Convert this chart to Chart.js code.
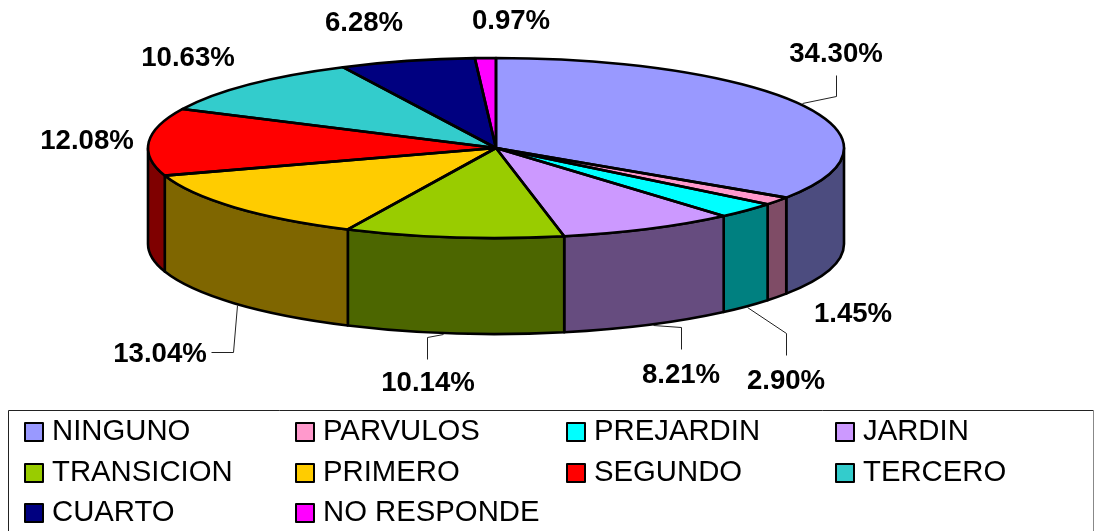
<!DOCTYPE html>
<html><head><meta charset="utf-8">
<style>html,body{margin:0;padding:0;background:#fff}canvas{display:block}</style>
<script src="https://cdn.jsdelivr.net/npm/chart.js@4"></script>
</head><body>
<canvas id="c" width="1094" height="531"></canvas>
<script>
const categories = ["NINGUNO","PARVULOS","PREJARDIN","JARDIN","TRANSICION","PRIMERO","SEGUNDO","TERCERO","CUARTO","NO RESPONDE"];
const values = [34.30,1.45,2.90,8.21,10.14,13.04,12.08,10.63,6.28,0.97];
const topColors = ["#9999FF","#FF99CC","#00FFFF","#CC99FF","#99CC00","#FFCC00","#FF0000","#33CCCC","#000080","#FF00FF"];
const wallColors = ["#4C4C7F","#7F4C66","#008080","#664C7F","#4C6600","#7F6600","#7F0000","#196666","#000040","#7F007F"];

// layout of the annotation text and the pseudo-3D projection
const pie = {cx:496, cy:148, rx:348, ry:90, depth:96};
const labelPos = [[836,54],[853,314],[786,381],[681,375],[428,383],[160,354],[87,141],[188,58],[364,23],[511,21]];
const leaders = [
  [[802,103],[836,96],[836,75]], null,
  [[747,307],[786,333],[786,355]],
  [[653,325],[681,327],[681,349]],
  [[443,334],[427,337],[427,359]],
  [[237,305],[233,352],[211,352]],
  null,null,null,null];
const legendCols = [25,296,567,836], legendRows = [432,473,513];
const legendBox = {x:8.5,y:410.5,r:1093.5};

const pie3d = {
  id:'pie3d',
  beforeDatasetsDraw(chart){
    const ctx = chart.ctx, arcs = chart.getDatasetMeta(0).data;
    const {cx,cy,rx,ry,depth} = pie;
    ctx.save();
    ctx.lineWidth = 2.6; ctx.strokeStyle = '#000'; ctx.lineJoin='round';
    arcs.forEach((a,i)=>{
      const s = Math.max(a.startAngle,0), e = Math.min(a.endAngle,Math.PI);
      if (e<=s) return;
      ctx.beginPath();
      ctx.ellipse(cx,cy,rx,ry,0,s,e);
      ctx.ellipse(cx,cy+depth,rx,ry,0,e,s,true);
      ctx.closePath();
      ctx.fillStyle = wallColors[i];
      ctx.fill(); ctx.stroke();
    });
    ctx.restore();
    // squash the library's own arcs into the top face
    const a0 = arcs[0];
    ctx.save();
    ctx.translate(cx,cy); ctx.scale(rx/a0.outerRadius, ry/a0.outerRadius); ctx.translate(-a0.x,-a0.y);
  },
  afterDatasetsDraw(chart){
    const ctx = chart.ctx, arcs = chart.getDatasetMeta(0).data;
    ctx.restore();
    const {cx,cy,rx,ry} = pie;
    ctx.save();
    ctx.lineWidth = 2.6; ctx.strokeStyle = '#000'; ctx.lineJoin='round';
    arcs.forEach(a=>{
      ctx.beginPath();
      ctx.moveTo(cx,cy);
      ctx.ellipse(cx,cy,rx,ry,0,a.startAngle,a.endAngle);
      ctx.closePath();
      ctx.stroke();
    });
    // leader lines
    ctx.lineWidth = 1; ctx.strokeStyle = '#222';
    leaders.forEach(l=>{
      if(!l) return;
      ctx.beginPath();
      l.forEach((p,j)=> j? ctx.lineTo(p[0]+.5,p[1]+.5): ctx.moveTo(p[0]+.5,p[1]+.5));
      ctx.stroke();
    });
    // percentage labels
    ctx.fillStyle='#000'; ctx.font='bold 27.6px "Liberation Sans", Arial, sans-serif';
    ctx.textAlign='center'; ctx.textBaseline='middle';
    values.forEach((v,i)=> ctx.fillText(v.toFixed(2)+'%',labelPos[i][0],labelPos[i][1]));
    // legend frame: runs off the bottom of the picture
    ctx.lineWidth=1; ctx.strokeStyle='#222';
    ctx.beginPath();
    ctx.moveTo(legendBox.x,531); ctx.lineTo(legendBox.x,legendBox.y); ctx.lineTo(legendBox.r,legendBox.y);
    ctx.stroke();
    ctx.strokeStyle='#888';
    ctx.beginPath();
    ctx.moveTo(legendBox.r,legendBox.y); ctx.lineTo(legendBox.r,531);
    ctx.stroke();
    ctx.font='29.3px "Liberation Sans", Arial, sans-serif';
    ctx.textAlign='left'; ctx.strokeStyle='#000';
    categories.forEach((name,i)=>{
      const x=legendCols[i%4], y=legendRows[Math.floor(i/4)];
      ctx.fillStyle=topColors[i];
      ctx.fillRect(x,y-9,18,18);
      ctx.lineWidth=2; ctx.strokeRect(x,y-9,18,18);
      ctx.fillStyle='#000';
      ctx.fillText(name,x+27,y);
    });
    ctx.restore();
  }
};

new Chart(document.getElementById('c'),{
  type:'pie',
  data:{labels:categories,datasets:[{data:values,backgroundColor:topColors,borderWidth:0,radius:348,clip:false}]},
  options:{responsive:false,animation:false,events:[],
    plugins:{legend:{display:false},tooltip:{enabled:false},title:{display:false}}},
  plugins:[pie3d]
});
</script>
</body></html>
